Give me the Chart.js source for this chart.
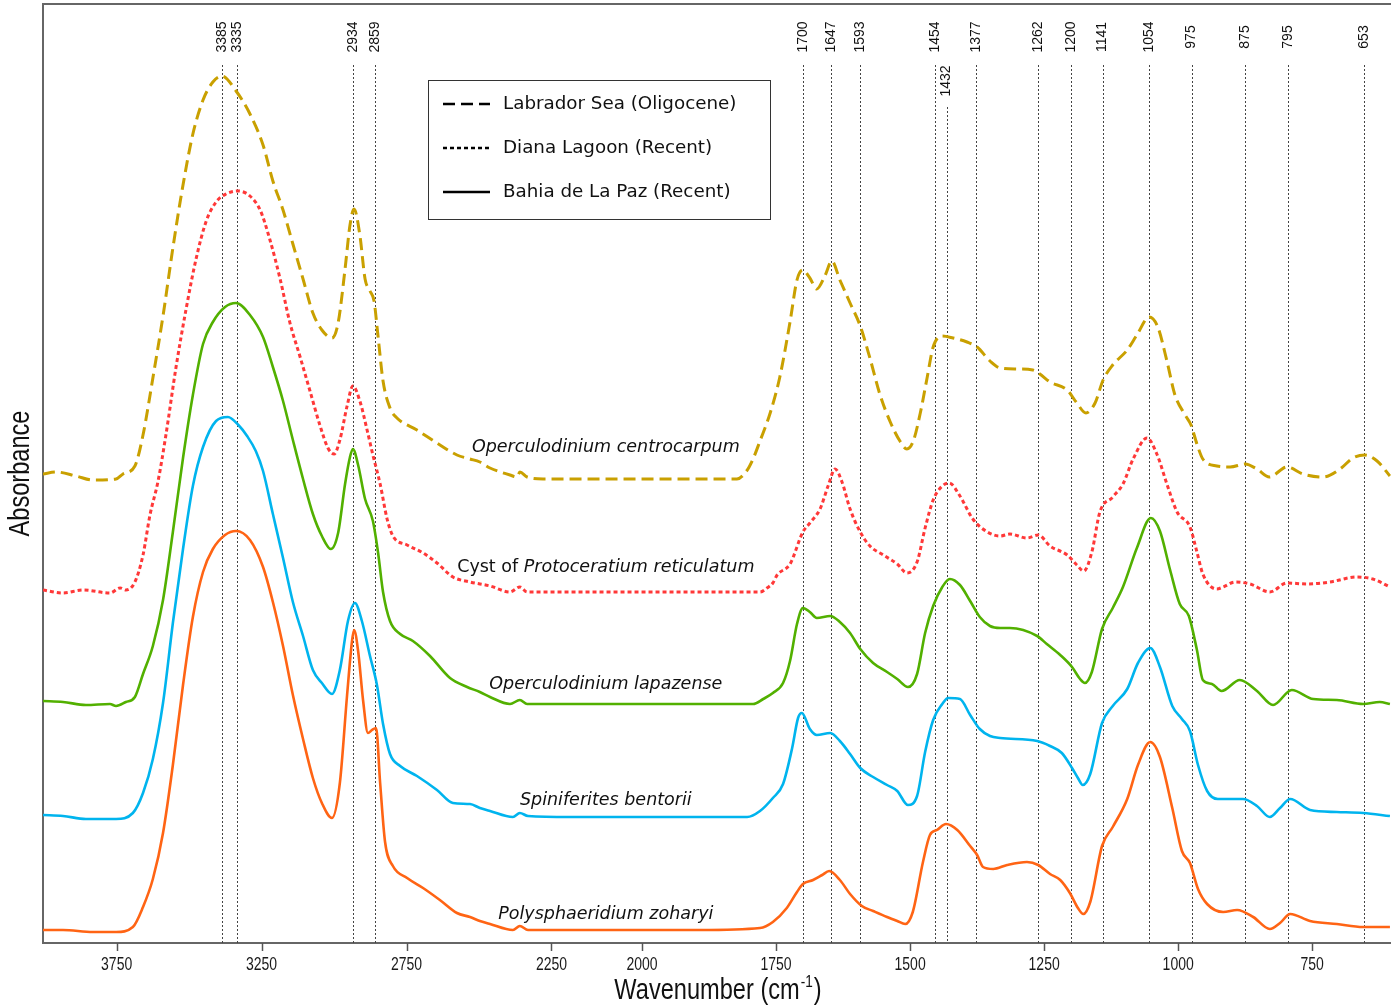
<!DOCTYPE html>
<html>
<head>
<meta charset="utf-8">
<script src="https://cdn.jsdelivr.net/npm/chart.js@4.4.0/dist/chart.umd.min.js"></script>
<style>
  html, body { margin: 0; padding: 0; background: #fff; }
</style>
</head>
<body>
<canvas id="chart" width="1391" height="1005"></canvas>
<script>
// FTIR spectra, [wavenumber cm-1, absorbance (arbitrary, offset)]
const centrocarpum = [
  [4004,0.469],[3959,0.471],[3890,0.467],[3832,0.463],[3752,0.464],[3728,0.469],[3687,0.477],[3659,0.508],
  [3625,0.565],[3590,0.627],[3556,0.695],[3521,0.758],[3487,0.809],[3452,0.843],[3418,0.861],[3387,0.867],
  [3338,0.852],[3290,0.829],[3245,0.798],[3211,0.762],[3176,0.733],[3142,0.699],[3107,0.664],[3073,0.630],
  [3042,0.613],[3007,0.605],[2986,0.620],[2962,0.674],[2945,0.718],[2931,0.734],[2911,0.708],[2893,0.664],
  [2876,0.652],[2862,0.642],[2848,0.606],[2831,0.562],[2807,0.535],[2783,0.525],[2714,0.513],[2645,0.500],
  [2576,0.488],[2531,0.484],[2497,0.481],[2462,0.475],[2393,0.468],[2369,0.466],[2359,0.471],[2334,0.466],
  [2279,0.464],[2199,0.464],[2063,0.464],[1929,0.464],[1823,0.464],[1805,0.472],[1793,0.484],[1780,0.502],
  [1761,0.530],[1743,0.566],[1724,0.621],[1711,0.663],[1700,0.673],[1687,0.665],[1674,0.654],
  [1659,0.667],[1646,0.682],[1631,0.663],[1612,0.640],[1593,0.617],[1575,0.585],[1556,0.548],[1537,0.521],
  [1519,0.502],[1506,0.494],[1494,0.502],[1481,0.530],[1468,0.566],[1457,0.596],[1440,0.607],[1420,0.605],
  [1394,0.601],[1375,0.596],[1351,0.582],[1332,0.575],[1301,0.574],[1271,0.573],[1258,0.569],[1239,0.561],
  [1207,0.553],[1189,0.540],[1172,0.530],[1155,0.540],[1140,0.563],[1122,0.578],[1095,0.593],[1077,0.608],
  [1054,0.626],[1038,0.616],[1021,0.582],[1006,0.548],[987,0.528],[976,0.518],[965,0.499],[954,0.484],
  [928,0.477],[903,0.476],[875,0.479],[853,0.474],[830,0.466],[797,0.476],[767,0.469],[730,0.466],
  [698,0.474],[674,0.485],[652,0.488],[629,0.482],[605,0.467]
];
const reticulatum = [
  [4004,0.353],[3935,0.350],[3866,0.353],[3773,0.350],[3738,0.355],[3718,0.353],[3687,0.361],[3659,0.388],
  [3635,0.428],[3607,0.462],[3580,0.508],[3545,0.576],[3511,0.633],[3476,0.684],[3442,0.721],[3407,0.741],
  [3373,0.749],[3331,0.752],[3290,0.747],[3255,0.733],[3221,0.703],[3186,0.664],[3152,0.620],[3117,0.586],
  [3083,0.552],[3048,0.517],[3021,0.495],[3000,0.489],[2980,0.503],[2955,0.537],[2935,0.557],[2911,0.542],
  [2886,0.513],[2866,0.488],[2841,0.459],[2817,0.424],[2797,0.407],[2748,0.398],[2693,0.390],[2645,0.380],
  [2590,0.366],[2531,0.361],[2462,0.357],[2393,0.351],[2359,0.356],[2334,0.351],[2199,0.351],[2063,0.351],
  [1892,0.351],[1780,0.351],[1767,0.355],[1756,0.360],[1748,0.368],[1724,0.379],[1700,0.411],[1687,0.420],
  [1668,0.434],[1653,0.457],[1640,0.474],[1627,0.461],[1612,0.434],[1593,0.411],[1575,0.397],[1550,0.388],
  [1524,0.379],[1506,0.370],[1487,0.381],[1472,0.415],[1457,0.443],[1440,0.457],[1427,0.460],[1407,0.447],
  [1383,0.424],[1356,0.411],[1332,0.407],[1314,0.409],[1282,0.405],[1261,0.408],[1239,0.397],[1207,0.388],
  [1189,0.378],[1176,0.372],[1161,0.391],[1146,0.431],[1122,0.446],[1103,0.459],[1084,0.484],[1058,0.505],
  [1039,0.488],[1021,0.459],[1002,0.431],[978,0.416],[965,0.391],[954,0.369],[928,0.354],[916,0.356],
  [894,0.361],[866,0.359],[829,0.351],[797,0.360],[760,0.359],[717,0.361],[667,0.366],[637,0.364],[605,0.356]
];
const lapazense = [
  [4004,0.242],[3935,0.241],[3856,0.238],[3773,0.239],[3752,0.237],[3718,0.241],[3687,0.246],[3659,0.269],
  [3625,0.297],[3590,0.343],[3556,0.411],[3521,0.485],[3487,0.548],[3452,0.599],[3418,0.621],[3376,0.636],
  [3338,0.640],[3290,0.628],[3245,0.606],[3211,0.576],[3176,0.542],[3142,0.503],[3107,0.464],[3073,0.429],
  [3042,0.407],[3011,0.394],[2986,0.410],[2962,0.459],[2945,0.486],[2935,0.494],[2917,0.478],[2893,0.444],
  [2866,0.422],[2848,0.390],[2831,0.351],[2807,0.322],[2772,0.309],[2728,0.302],[2669,0.287],[2600,0.265],
  [2541,0.256],[2497,0.251],[2462,0.246],[2393,0.239],[2359,0.243],[2334,0.239],[2199,0.239],[2063,0.239],
  [1892,0.239],[1793,0.239],[1774,0.244],[1756,0.250],[1737,0.260],[1724,0.282],[1711,0.319],[1700,0.335],
  [1687,0.331],[1674,0.325],[1649,0.327],[1631,0.321],[1612,0.310],[1593,0.294],[1569,0.280],[1543,0.271],
  [1524,0.264],[1504,0.256],[1487,0.269],[1472,0.310],[1457,0.337],[1440,0.356],[1426,0.364],[1407,0.358],
  [1388,0.342],[1370,0.326],[1351,0.317],[1332,0.315],[1314,0.315],[1263,0.307],[1245,0.299],[1220,0.288],
  [1198,0.276],[1183,0.264],[1174,0.260],[1161,0.271],[1142,0.314],[1122,0.335],[1103,0.356],[1077,0.395],
  [1051,0.425],[1034,0.412],[1015,0.373],[997,0.339],[980,0.327],[965,0.293],[954,0.263],[937,0.259],
  [919,0.252],[885,0.263],[853,0.252],[823,0.238],[788,0.253],[748,0.244],[704,0.243],[655,0.239],
  [624,0.241],[605,0.239]
];
const bentorii = [
  [4004,0.128],[3935,0.127],[3856,0.124],[3752,0.124],[3694,0.130],[3659,0.150],[3625,0.184],[3590,0.240],
  [3556,0.320],[3521,0.394],[3487,0.457],[3452,0.496],[3407,0.522],[3366,0.526],[3330,0.518],[3300,0.507],
  [3270,0.492],[3245,0.472],[3211,0.429],[3176,0.385],[3142,0.341],[3107,0.307],[3073,0.273],[3042,0.260],
  [3007,0.249],[2980,0.273],[2952,0.322],[2928,0.340],[2904,0.322],[2876,0.287],[2852,0.258],[2831,0.219],
  [2807,0.189],[2772,0.177],[2714,0.167],[2645,0.153],[2590,0.140],[2531,0.139],[2497,0.135],[2462,0.132],
  [2383,0.126],[2359,0.130],[2331,0.127],[2199,0.126],[2063,0.126],[1892,0.126],[1804,0.126],[1780,0.132],
  [1756,0.145],[1737,0.159],[1720,0.195],[1709,0.225],[1702,0.230],[1687,0.214],[1674,0.208],[1649,0.210],
  [1631,0.202],[1612,0.189],[1593,0.175],[1569,0.166],[1543,0.158],[1524,0.152],[1504,0.138],[1487,0.147],
  [1472,0.191],[1457,0.223],[1440,0.239],[1429,0.245],[1407,0.244],[1388,0.228],[1370,0.214],[1351,0.207],
  [1332,0.205],[1263,0.202],[1239,0.197],[1217,0.190],[1198,0.175],[1187,0.165],[1178,0.158],[1164,0.169],
  [1142,0.220],[1122,0.237],[1095,0.254],[1075,0.280],[1052,0.295],[1034,0.276],[1011,0.237],[993,0.224],
  [978,0.212],[963,0.178],[946,0.152],[926,0.144],[879,0.144],[853,0.137],[829,0.126],[810,0.135],
  [791,0.144],[754,0.133],[704,0.131],[655,0.130],[605,0.127]
];
const zoharyi = [
  [4004,0.013],[3935,0.013],[3832,0.011],[3752,0.011],[3694,0.016],[3659,0.036],[3625,0.064],[3590,0.110],
  [3556,0.178],[3521,0.258],[3487,0.326],[3452,0.371],[3418,0.394],[3376,0.408],[3338,0.412],[3290,0.403],
  [3245,0.376],[3211,0.341],[3176,0.297],[3142,0.248],[3107,0.204],[3073,0.165],[3042,0.140],[3007,0.125],
  [2980,0.160],[2955,0.248],[2938,0.302],[2931,0.313],[2917,0.292],[2900,0.243],[2883,0.210],[2869,0.213],
  [2855,0.215],[2841,0.160],[2824,0.101],[2797,0.077],[2748,0.065],[2693,0.055],[2635,0.043],[2576,0.030],
  [2531,0.026],[2497,0.022],[2462,0.019],[2383,0.013],[2359,0.017],[2331,0.013],[2199,0.013],[2063,0.013],
  [1892,0.013],[1780,0.015],[1756,0.021],[1730,0.035],[1711,0.051],[1700,0.059],[1681,0.063],[1664,0.068],
  [1651,0.072],[1631,0.063],[1612,0.049],[1590,0.037],[1569,0.032],[1543,0.026],[1524,0.022],[1509,0.019],
  [1495,0.031],[1476,0.081],[1463,0.108],[1450,0.113],[1433,0.119],[1412,0.113],[1388,0.097],[1375,0.088],
  [1364,0.076],[1345,0.074],[1319,0.078],[1282,0.081],[1261,0.078],[1239,0.069],[1220,0.063],[1202,0.050],
  [1187,0.035],[1177,0.029],[1164,0.041],[1142,0.097],[1122,0.116],[1095,0.144],[1075,0.178],[1052,0.201],
  [1034,0.186],[1011,0.135],[993,0.092],[978,0.080],[963,0.054],[946,0.039],[916,0.031],[890,0.033],
  [860,0.026],[829,0.014],[810,0.020],[791,0.029],[754,0.022],[704,0.019],[655,0.016],[605,0.016]
];

const speciesNames = ['Operculodinium centrocarpum', 'Protoceratium reticulatum', 'Operculodinium lapazense',
  'Spiniferites bentorii', 'Polysphaeridium zoharyi'];
const speciesPrefix = ['', 'Cyst of ', '', '', ''];
const sampleSites = ['Labrador Sea (Oligocene)', 'Diana Lagoon (Recent)', 'Bahia de La Paz (Recent)'];

const xTicks = [3750, 3250, 2750, 2250, 2000, 1750, 1500, 1250, 1000, 750];
const peakWn = [3385, 3335, 2934, 2859, 1700, 1647, 1593, 1454, 1432, 1377, 1262, 1200, 1141, 1054, 975, 875, 795, 653];
const lowerPeaks = [1432];

// x axis changes scale below 2250 and 2000 cm-1
const wnKnots = [4004, 2250, 2000, 603];
const fracKnots = [0, 0.3772, 0.4444, 1];

function wnToFrac(w) {
  let i = 0;
  while (i < wnKnots.length - 2 && w < wnKnots[i + 1]) i++;
  const t = (wnKnots[i] - w) / (wnKnots[i] - wnKnots[i + 1]);
  return fracKnots[i] + t * (fracKnots[i + 1] - fracKnots[i]);
}
function fracToWn(f) {
  let i = 0;
  while (i < fracKnots.length - 2 && f > fracKnots[i + 1]) i++;
  const t = (f - fracKnots[i]) / (fracKnots[i + 1] - fracKnots[i]);
  return wnKnots[i] + t * (wnKnots[i + 1] - wnKnots[i]);
}

class WavenumberScale extends Chart.LinearScale {
  getPixelForValue(value) {
    return this.left + wnToFrac(value) * this.width;
  }
  getValueForPixel(pixel) {
    return fracToWn((pixel - this.left) / this.width);
  }
}
WavenumberScale.id = 'wavenumber';
WavenumberScale.defaults = Chart.LinearScale.defaults;
Chart.register(WavenumberScale);

const sans = '"Liberation Sans", Arial, sans-serif';
const verdanaLike = '"DejaVu Sans", Verdana, sans-serif';

const colors = ['#C9A000', '#FF3838', '#52B000', '#00B4EE', '#FF6414'];
const dashes = [[12, 6], [4, 3], [], [], []];
const series = [centrocarpum, reticulatum, lapazense, bentorii, zoharyi];

const datasets = series.map((s, i) => ({
  label: speciesNames[i],
  data: s.map(p => ({ x: p[0], y: p[1] })),
  borderColor: colors[i],
  borderWidth: i < 2 ? 3 : 2.6,
  borderDash: dashes[i],
  pointRadius: 0,
  cubicInterpolationMode: 'monotone',
  fill: false
}));

// condensed text, like Arial Narrow
function narrowText(ctx, text, x, y, size, rot) {
  ctx.save();
  ctx.translate(x, y);
  if (rot) ctx.rotate(rot);
  ctx.scale(0.8, 1);
  ctx.font = size + 'px ' + sans;
  ctx.fillText(text, 0, 0);
  ctx.restore();
}

const peakPlugin = {
  id: 'peakMarks',
  beforeDatasetsDraw(chart) {
    const { ctx, chartArea, scales: { x } } = chart;
    ctx.save();
    ctx.strokeStyle = '#444';
    ctx.lineWidth = 1;
    ctx.setLineDash([2, 2]);
    peakWn.forEach(w => {
      const px = Math.round(x.getPixelForValue(w)) + 0.5;
      const low = lowerPeaks.includes(w);
      ctx.beginPath();
      ctx.moveTo(px, chartArea.top + (low ? 103 : 61));
      ctx.lineTo(px, chartArea.bottom);
      ctx.stroke();
    });
    ctx.setLineDash([]);
    ctx.fillStyle = '#111';
    ctx.font = '14px ' + sans;
    ctx.textAlign = 'center';
    ctx.textBaseline = 'middle';
    peakWn.forEach(w => {
      const px = x.getPixelForValue(w);
      const cy = chartArea.top + (lowerPeaks.includes(w) ? 77 : 33);
      ctx.save();
      ctx.translate(px, cy);
      ctx.rotate(-Math.PI / 2);
      ctx.fillText(String(w), 0, 0);
      ctx.restore();
    });
    ctx.restore();
  },
  afterDraw(chart) {
    const { ctx, chartArea, scales: { x } } = chart;
    ctx.save();
    // top frame line
    ctx.strokeStyle = '#666';
    ctx.lineWidth = 2;
    ctx.beginPath();
    ctx.moveTo(chartArea.left - 1, chartArea.top);
    ctx.lineTo(chartArea.right, chartArea.top);
    ctx.stroke();

    // tick marks, tick labels and axis titles
    ctx.strokeStyle = '#555';
    ctx.lineWidth = 1.5;
    xTicks.forEach(v => {
      const px = Math.round(x.getPixelForValue(v)) + 0.5;
      ctx.beginPath();
      ctx.moveTo(px, chartArea.bottom);
      ctx.lineTo(px, chartArea.bottom + 8);
      ctx.stroke();
    });
    ctx.fillStyle = '#1a1a1a';
    ctx.textAlign = 'center';
    ctx.textBaseline = 'middle';
    xTicks.forEach(v => narrowText(ctx, String(v), x.getPixelForValue(v), chartArea.bottom + 22, 17.5, 0));

    ctx.fillStyle = '#111';
    narrowText(ctx, 'Absorbance', 21, (chartArea.top + chartArea.bottom) / 2, 29.5, -Math.PI / 2);

    ctx.textAlign = 'left';
    ctx.textBaseline = 'alphabetic';
    ctx.font = '29.5px ' + sans;
    const main = 'Wavenumber (cm', close = ')';
    const wMain = ctx.measureText(main).width * 0.8;
    const wClose = ctx.measureText(close).width * 0.8;
    ctx.font = '17px ' + sans;
    const wSup = ctx.measureText('-1').width * 0.8;
    const sx = (chartArea.left + chartArea.right) / 2 - (wMain + wSup + wClose) / 2;
    const base = 999;
    narrowText(ctx, main, sx, base, 29.5, 0);
    narrowText(ctx, '-1', sx + wMain + 1, base - 12, 17, 0);
    narrowText(ctx, close, sx + wMain + wSup + 2, base, 29.5, 0);

    // legend box
    const bx = 428, by = 80, bw = 342, bh = 139;
    ctx.fillStyle = '#fff';
    ctx.fillRect(bx, by, bw, bh);
    ctx.strokeStyle = '#333';
    ctx.lineWidth = 1;
    ctx.strokeRect(bx + 0.5, by + 0.5, bw, bh);
    ctx.font = '18.3px ' + verdanaLike;
    ctx.textBaseline = 'middle';
    ctx.textAlign = 'left';
    sampleSites.forEach((t, i) => {
      const y = by + 24 + i * 44;
      ctx.strokeStyle = '#000';
      ctx.lineWidth = 2.6;
      ctx.setLineDash(dashes[i]);
      ctx.beginPath();
      ctx.moveTo(bx + 15, y);
      ctx.lineTo(bx + 62, y);
      ctx.stroke();
      ctx.setLineDash([]);
      ctx.fillStyle = '#111';
      ctx.fillText(t, bx + 75, y);
    });
    ctx.restore();
  }
};

// species names written next to each spectrum (wavenumber, absorbance)
const nameAnchorWn = 2100;
const nameAnchorAbs = [0.496, 0.376, 0.259, 0.143, 0.029];

const namePlugin = {
  id: 'speciesNames',
  afterDatasetsDraw(chart) {
    const { ctx, scales: { x, y } } = chart;
    ctx.save();
    ctx.fillStyle = '#111';
    ctx.textBaseline = 'middle';
    ctx.textAlign = 'left';
    const upright = '17.5px ' + verdanaLike;
    const italic = 'italic 17.5px ' + verdanaLike;
    speciesNames.forEach((name, i) => {
      const cx = x.getPixelForValue(nameAnchorWn);
      const cy = y.getPixelForValue(nameAnchorAbs[i]);
      ctx.font = upright;
      const w1 = ctx.measureText(speciesPrefix[i]).width;
      ctx.font = italic;
      const w2 = ctx.measureText(name).width;
      const sx = cx - (w1 + w2) / 2;
      ctx.font = upright;
      ctx.fillText(speciesPrefix[i], sx, cy);
      ctx.font = italic;
      ctx.fillText(name, sx + w1, cy);
    });
    ctx.restore();
  }
};

new Chart(document.getElementById('chart'), {
  type: 'line',
  data: { datasets },
  plugins: [peakPlugin, namePlugin],
  options: {
    responsive: false,
    animation: false,
    devicePixelRatio: 1,
    layout: { padding: { top: 4, right: 0, left: 0, bottom: 0 } },
    plugins: {
      legend: { display: false },
      tooltip: { enabled: false }
    },
    scales: {
      x: {
        type: 'wavenumber',
        min: 603,
        max: 4004,
        afterBuildTicks: s => { s.ticks = xTicks.map(v => ({ value: v })); },
        afterFit: s => { s.height = 62; },
        // labels and marks are drawn narrow by the plugin
        ticks: { display: false, autoSkip: false },
        grid: { display: false },
        border: { display: true, color: '#666', width: 2 },
        title: { display: false }
      },
      y: {
        type: 'linear',
        min: 0,
        max: 0.939,
        afterFit: s => { s.width = 43; },
        ticks: { display: false },
        grid: { display: false },
        border: { display: true, color: '#666', width: 2 },
        title: { display: false }
      }
    }
  }
});
</script>
</body>
</html>
